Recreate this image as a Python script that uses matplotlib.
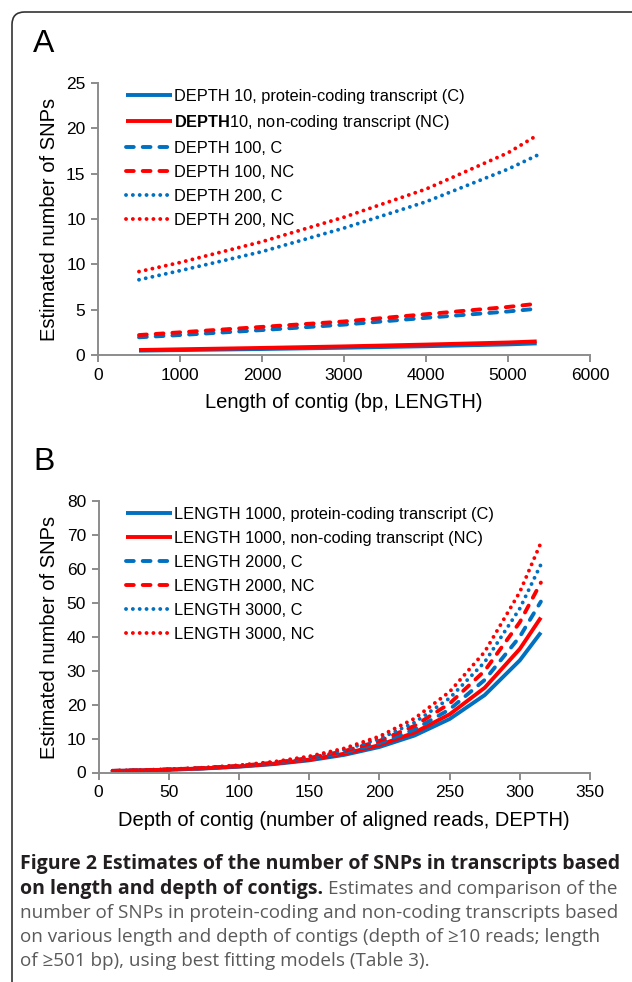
import matplotlib
matplotlib.use("Agg")
import matplotlib.pyplot as plt
from matplotlib.patches import FancyBboxPatch

plt.rcParams['font.family'] = ['Liberation Sans', 'DejaVu Sans']
plt.rcParams['mathtext.fontset'] = 'custom'
plt.rcParams['mathtext.rm'] = 'Liberation Sans'
plt.rcParams['mathtext.bf'] = 'Liberation Sans:bold'

# ---------------- Panel A data ----------------
length_x = [500, 1000, 2000, 3000, 4000, 5000, 5350]
a_d10_c = [0.48, 0.54, 0.66, 0.80, 0.97, 1.17, 1.28]
a_d10_nc = [0.55, 0.63, 0.78, 0.95, 1.15, 1.38, 1.50]
a_d100_c = [1.95, 2.20, 2.75, 3.35, 4.10, 4.80, 5.10]
a_d100_nc = [2.20, 2.50, 3.10, 3.70, 4.50, 5.30, 5.65]
a_d200_c = [8.3, 9.3, 11.4, 14.0, 16.9, 20.5, 22.0]
a_d200_nc = [9.2, 10.2, 12.5, 15.2, 18.3, 22.3, 24.2]
a_labels = ["DEPTH 10, protein-coding transcript (C)",
            r"$\mathbf{DEPTH}$10, non-coding transcript (NC)",
            "DEPTH 100, C", "DEPTH 100, NC", "DEPTH 200, C", "DEPTH 200, NC"]
a_yticks = [0, 5, 10, 15, 20, 25, 30]
a_yticklabels = ["0", "5", "10", "10", "15", "20", "25"]
a_xticks = [0, 1000, 2000, 3000, 4000, 5000, 6000]

# ---------------- Panel B data ----------------
depth_x = [10, 25, 50, 75, 100, 125, 150, 175, 200, 225, 250, 275, 300, 315]
b_l1000_c = [0.45, 0.56, 0.82, 1.18, 1.71, 2.48, 3.58, 5.19, 7.51, 10.88, 15.74, 22.79, 33.0, 41.2]
b_l1000_nc = [0.46, 0.58, 0.84, 1.23, 1.79, 2.60, 3.79, 5.53, 8.06, 11.75, 17.12, 24.95, 36.37, 45.6]
b_l2000_c = [0.47, 0.59, 0.87, 1.27, 1.87, 2.74, 4.01, 5.89, 8.64, 12.67, 18.58, 27.25, 39.97, 50.3]
b_l2000_nc = [0.48, 0.61, 0.90, 1.32, 1.95, 2.88, 4.26, 6.29, 9.29, 13.73, 20.28, 29.95, 44.24, 55.9]
b_l3000_c = [0.49, 0.62, 0.92, 1.37, 2.04, 3.02, 4.49, 6.67, 9.92, 14.73, 21.87, 32.50, 48.26, 61.2]
b_l3000_nc = [0.50, 0.64, 0.95, 1.42, 2.13, 3.18, 4.75, 7.10, 10.63, 15.89, 23.76, 35.51, 53.12, 67.6]
b_labels = ["LENGTH 1000, protein-coding transcript (C)",
            "LENGTH 1000, non-coding transcript (NC)",
            "LENGTH 2000, C", "LENGTH 2000, NC", "LENGTH 3000, C", "LENGTH 3000, NC"]
b_xticks = [0, 50, 100, 150, 200, 250, 300, 350]
b_yticks = [0, 10, 20, 30, 40, 50, 60, 70, 80]

BLUE = "#0070C0"
RED = "#FF0000"
GRAY = "#8C8C8C"
LW = 2.8
SOLID = '-'
DASH = (0, (2.0, 2.3))
DOT = (0, (0.01, 1.75))
styles = [(BLUE, SOLID), (RED, SOLID), (BLUE, DASH), (RED, DASH), (BLUE, DOT), (RED, DOT)]

W, H = 632, 982
fig = plt.figure(figsize=(W / 100, H / 100), dpi=100)

# frame
frame = FancyBboxPatch((12 / W, -20 / H), 700 / W, (H - 12 + 20) / H,
                       boxstyle="round,pad=0,rounding_size=0.02",
                       transform=fig.transFigure, fill=False,
                       edgecolor="#333333", linewidth=1.2, clip_on=False,
                       mutation_aspect=W / H)
fig.patches.append(frame)


def style_axes(ax):
    for s in ['top', 'right']:
        ax.spines[s].set_visible(False)
    for s in ['left', 'bottom']:
        ax.spines[s].set_color(GRAY)
        ax.spines[s].set_linewidth(1.4)
    ax.tick_params(direction='out', length=5, width=1.4, color=GRAY,
                   labelsize=12.5, labelcolor='black', pad=4)


def draw(ax, x, series, labels, leg_y):
    handles = []
    for ys, (c, ls), lab in zip(series, styles, labels):
        ln, = ax.plot(x, ys, color=c, linestyle=ls, linewidth=LW,
                      dash_capstyle='round', solid_capstyle='butt', label=lab)
        handles.append(ln)
    leg = ax.legend(handles=handles, loc='upper left',
                    bbox_to_anchor=(126 / W, leg_y), bbox_transform=fig.transFigure,
                    frameon=False, fontsize=11.8, handlelength=2.8,
                    handletextpad=0.15, labelspacing=0.55, borderpad=0, borderaxespad=0)
    return leg


# Panel A
axA = fig.add_axes([98 / W, 1 - 355 / H, (590 - 98) / W, (355 - 83) / H])
style_axes(axA)
draw(axA, length_x, [a_d10_c, a_d10_nc, a_d100_c, a_d100_nc, a_d200_c, a_d200_nc],
     a_labels, 1 - 89 / H)
axA.set_xlim(0, 6000)
axA.set_ylim(0, 30)
axA.set_xticks(a_xticks)
axA.set_yticks(a_yticks)
axA.set_yticklabels(a_yticklabels)
fig.text(344 / W, 1 - 402 / H, "Length of contig (bp, LENGTH)", ha='center', va='center', fontsize=14.5)
fig.text(50 / W, 1 - 219 / H, "Estimated number of SNPs", ha='center', va='center',
         rotation=90, fontsize=14.5)
fig.text(33 / W, 1 - 44 / H, "A", ha='left', va='center', fontsize=23)

# Panel B
axB = fig.add_axes([98.6 / W, 1 - 772.5 / H, (590 - 98.6) / W, (772.5 - 500.7) / H])
style_axes(axB)
draw(axB, depth_x, [b_l1000_c, b_l1000_nc, b_l2000_c, b_l2000_nc, b_l3000_c, b_l3000_nc],
     b_labels, 1 - 507 / H)
axB.set_xlim(0, 350)
axB.set_ylim(0, 80)
axB.set_xticks(b_xticks)
axB.set_yticks(b_yticks)
fig.text(344 / W, 1 - 820 / H, "Depth of contig (number of aligned reads, DEPTH)", ha='center',
         va='center', fontsize=14.5)
fig.text(50 / W, 1 - 637 / H, "Estimated number of SNPs", ha='center', va='center',
         rotation=90, fontsize=14.5)
fig.text(33 / W, 1 - 462 / H, "B", ha='left', va='center', fontsize=23)

# Caption
cap_font = ['Open Sans', 'DejaVu Sans']
bold_fs = 14.0
reg_fs = 13.6
cap_x = 20 / W
line_ys = [864, 889, 913, 937, 961]
fig.text(cap_x, 1 - line_ys[0] / H, "Figure 2 Estimates of the number of SNPs in transcripts based",
         family=cap_font, fontsize=bold_fs, fontweight='bold', color='#231F20', va='center')
b2 = fig.text(cap_x, 1 - line_ys[1] / H, "on length and depth of contigs.",
              family=cap_font, fontsize=bold_fs, fontweight='bold', color='#231F20', va='center')
fig.canvas.draw()
bb = b2.get_window_extent()
fig.text(bb.x1 / W + 5 / W, 1 - line_ys[1] / H, "Estimates and comparison of the",
         family=cap_font, fontsize=reg_fs, color='#5A5A5A', va='center')
rest = ["number of SNPs in protein-coding and non-coding transcripts based",
        "on various length and depth of contigs (depth of \u226510 reads; length",
        "of \u2265501 bp), using best fitting models (Table 3)."]
for t, yy in zip(rest, line_ys[2:]):
    fig.text(cap_x, 1 - yy / H, t, family=cap_font, fontsize=reg_fs, color='#5A5A5A', va='center')

fig.savefig("out.png", dpi=100)
